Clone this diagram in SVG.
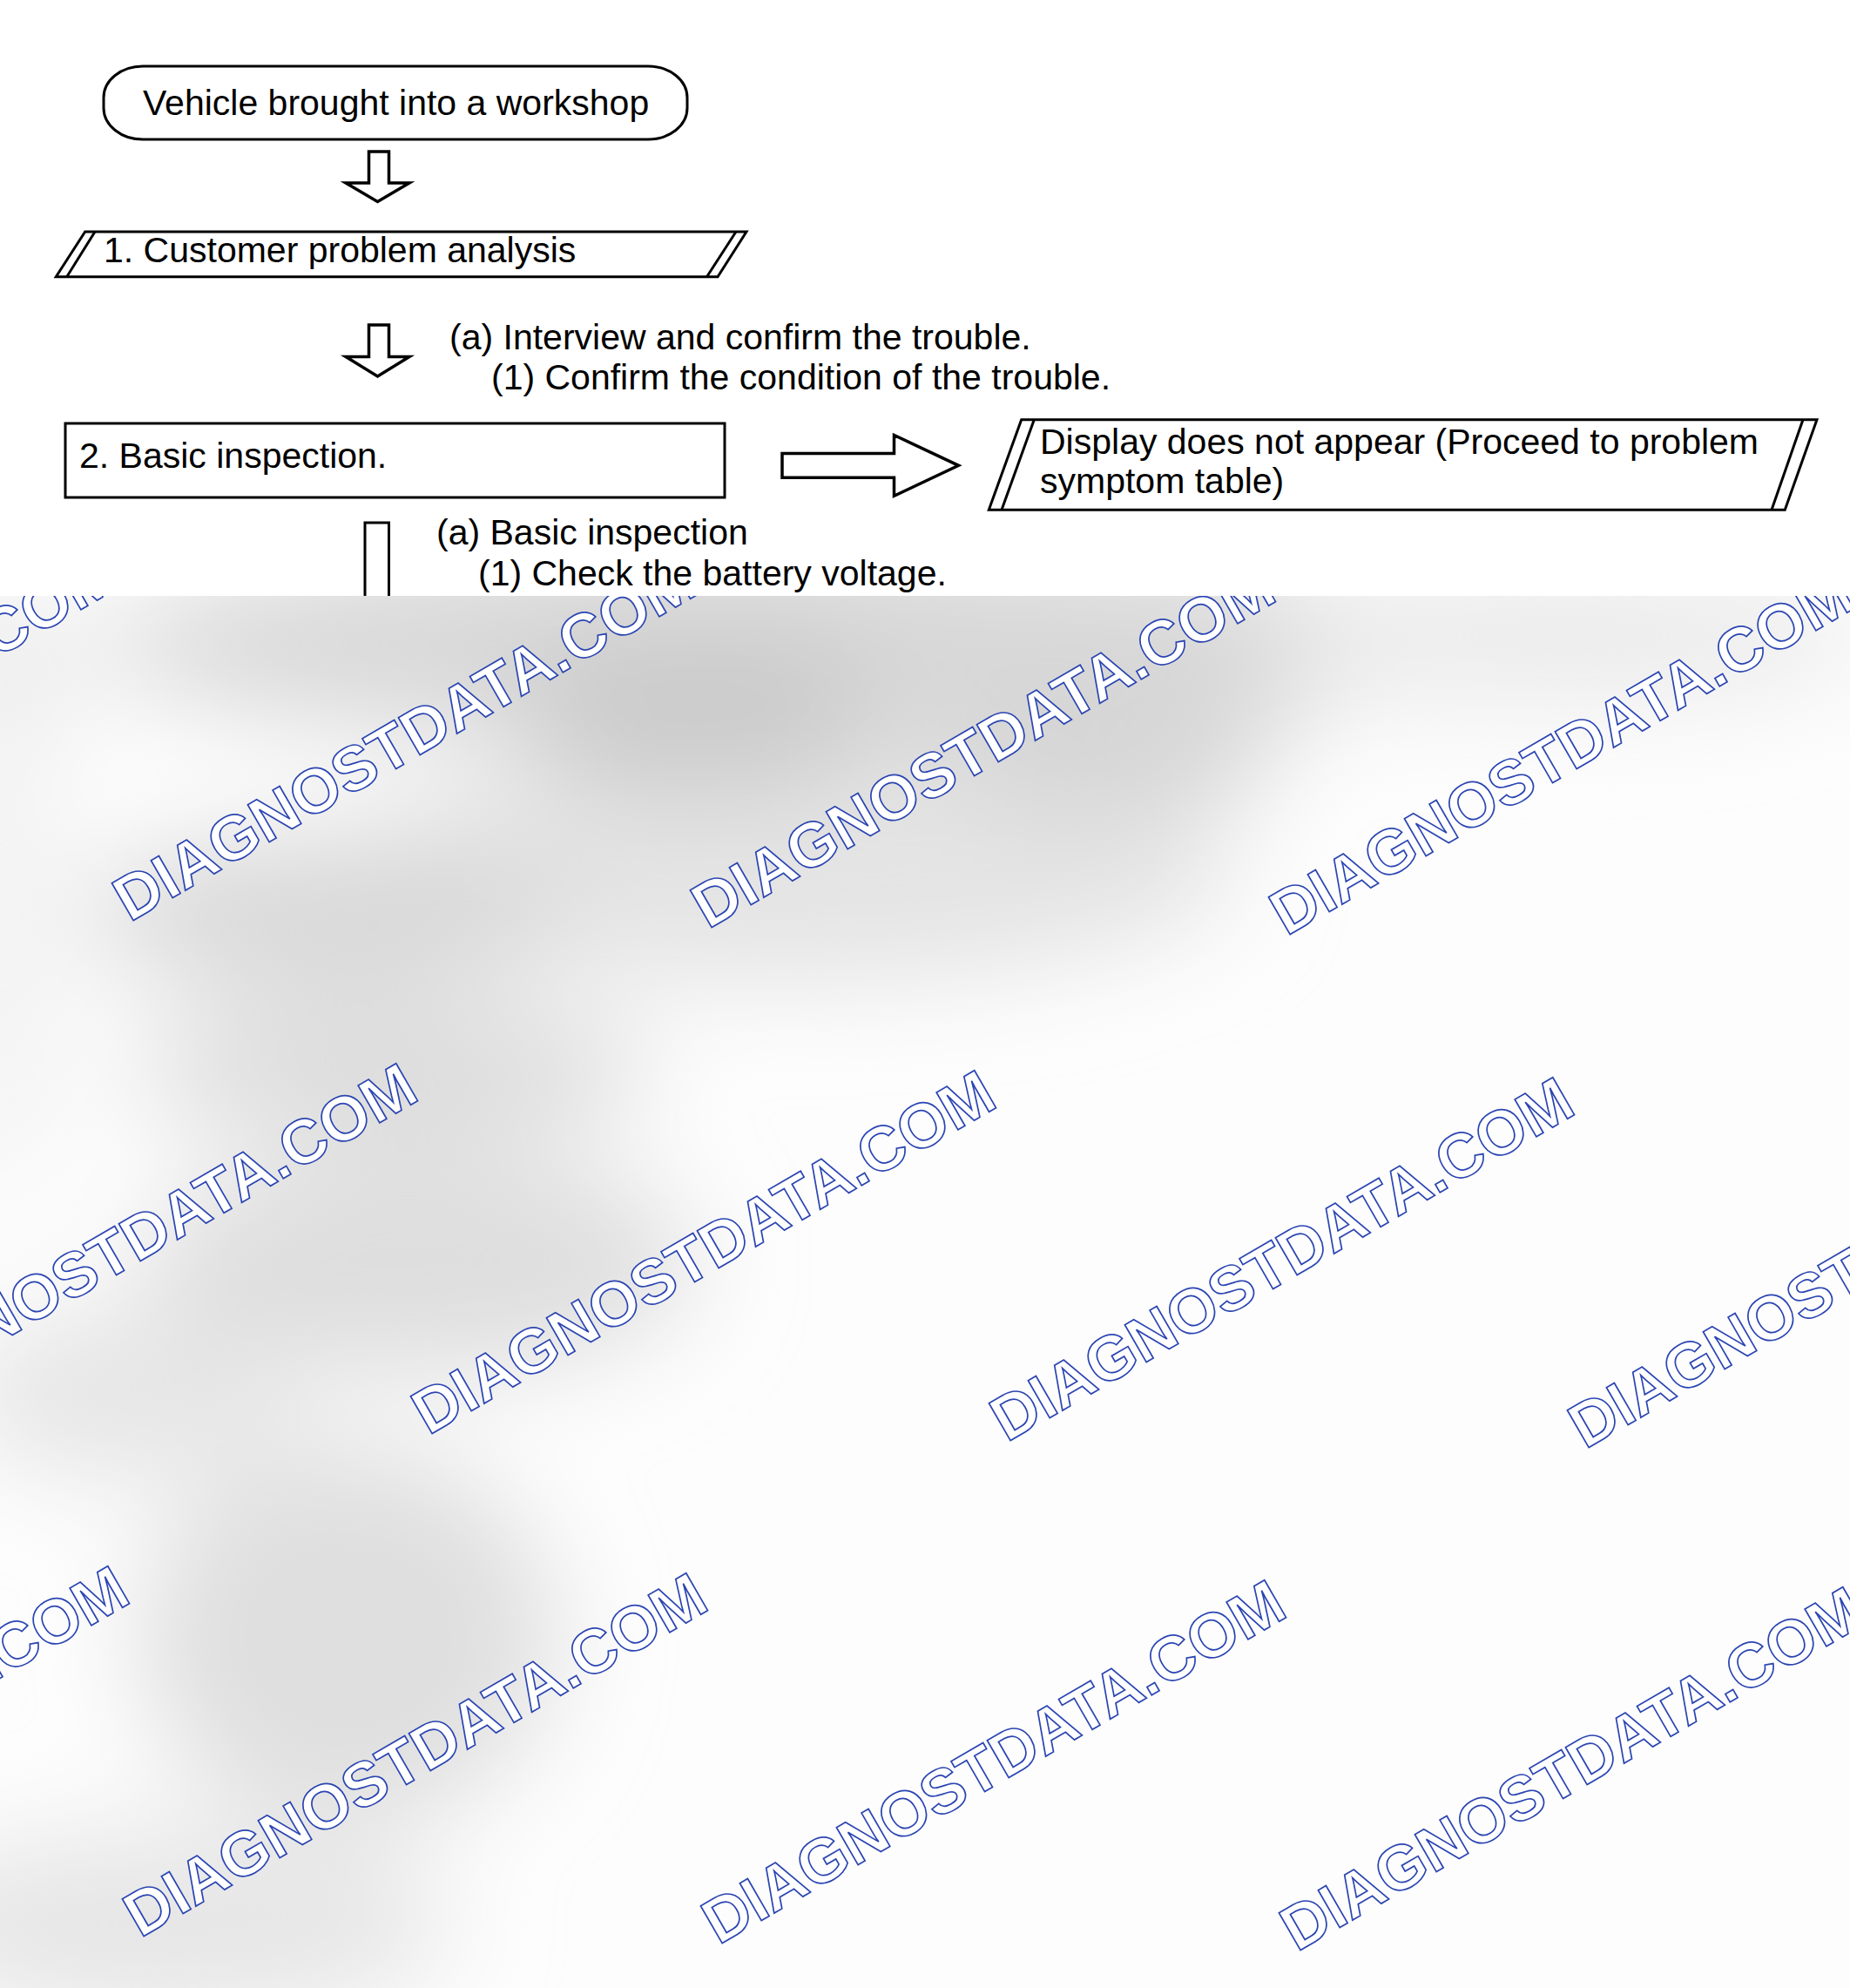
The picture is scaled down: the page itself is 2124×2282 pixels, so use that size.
<svg xmlns="http://www.w3.org/2000/svg" xmlns:xlink="http://www.w3.org/1999/xlink" width="2124" height="2282" viewBox="0 0 2124 2282">
  <style>
    .lbl { font-family: "Liberation Sans", Arial, sans-serif; font-size: 41px; fill: #000; }
    .shape { fill: #fff; stroke: #000; stroke-width: 3; stroke-linejoin: miter; }
    .ln { fill: none; stroke: #000; stroke-width: 3; }
    .arrow { fill: #fff; stroke: #000; stroke-width: 3.5; stroke-linejoin: miter; }
    .wm { font-family: "Liberation Sans", Arial, sans-serif; font-weight: bold; font-size: 72px; fill: #fff; stroke: #2b45b2; stroke-width: 1.7; }
  </style>
  <defs>
    <clipPath id="grayClip">
      <rect x="0" y="684" width="2124" height="1598"/>
    </clipPath>
    <filter id="soft" filterUnits="userSpaceOnUse" x="-300" y="400" width="2800" height="2200">
      <feGaussianBlur stdDeviation="60"/>
    </filter>
    <text id="wmText" class="wm">DIAGNOSTDATA.COM</text>
  </defs>

  <rect x="0" y="0" width="2124" height="2282" fill="#ffffff"/>

  <!-- gray blurred overlay with watermarks -->
  <g id="overlay" clip-path="url(#grayClip)">
    <rect x="0" y="684" width="2124" height="1598" fill="#fdfdfd"/>
    <g filter="url(#soft)">
      <ellipse cx="900" cy="740" rx="780" ry="120" fill="#d8d8d8"/>
      <ellipse cx="1800" cy="730" rx="350" ry="80" fill="#ebebeb"/>
      <ellipse cx="900" cy="1000" rx="520" ry="130" fill="#e4e4e4"/>
      <ellipse cx="800" cy="820" rx="220" ry="90" fill="#cacaca"/>
      <ellipse cx="1270" cy="870" rx="200" ry="60" fill="#d4d4d4"/>
      <ellipse cx="380" cy="1050" rx="280" ry="90" fill="#d8d8d8"/>
      <ellipse cx="450" cy="1230" rx="300" ry="80" fill="#dcdcdc"/>
      <ellipse cx="480" cy="1450" rx="320" ry="130" fill="#dedede"/>
      <ellipse cx="150" cy="1600" rx="200" ry="100" fill="#e6e6e6"/>
      <ellipse cx="400" cy="1880" rx="240" ry="220" fill="#dfdfdf"/>
      <ellipse cx="200" cy="2210" rx="320" ry="110" fill="#e6e6e6"/>
      <ellipse cx="0" cy="1050" rx="70" ry="330" fill="#f2f2f2"/>
      <ellipse cx="0" cy="760" rx="110" ry="90" fill="#eeeeee"/>
    </g>
    <g id="watermarks">
      <use xlink:href="#wmText" transform="translate(-515 1051) rotate(-30)"/>
      <use xlink:href="#wmText" transform="translate(149 1059) rotate(-30)"/>
      <use xlink:href="#wmText" transform="translate(813 1067) rotate(-30)"/>
      <use xlink:href="#wmText" transform="translate(1477 1075) rotate(-30)"/>
      <use xlink:href="#wmText" transform="translate(-172 1640) rotate(-30)"/>
      <use xlink:href="#wmText" transform="translate(492 1648) rotate(-30)"/>
      <use xlink:href="#wmText" transform="translate(1156 1656) rotate(-30)"/>
      <use xlink:href="#wmText" transform="translate(1820 1664) rotate(-30)"/>
      <use xlink:href="#wmText" transform="translate(-503 2217) rotate(-30)"/>
      <use xlink:href="#wmText" transform="translate(161 2225) rotate(-30)"/>
      <use xlink:href="#wmText" transform="translate(825 2233) rotate(-30)"/>
      <use xlink:href="#wmText" transform="translate(1489 2241) rotate(-30)"/>
    </g>
  </g>

  <!-- nodes -->
  <g id="node-start">
    <rect class="shape" x="119" y="76" width="670" height="84" rx="45" ry="36"/>
    <text class="lbl" x="164" y="132">Vehicle brought into a workshop</text>
  </g>

  <g id="node-customer-analysis">
    <polygon class="shape" points="97.7,266 857,266 824,317.7 64.3,317.7"/>
    <line class="ln" x1="109" y1="266" x2="76.7" y2="317.7"/>
    <line class="ln" x1="845" y1="266" x2="811.5" y2="317.7"/>
    <text class="lbl" x="119" y="301">1. Customer problem analysis</text>
  </g>

  <g id="note-interview">
    <text class="lbl" x="516" y="401">(a) Interview and confirm the trouble.</text>
    <text class="lbl" x="564" y="447">(1) Confirm the condition of the trouble.</text>
  </g>

  <g id="node-basic-inspection">
    <rect class="shape" x="75" y="486" width="757" height="85"/>
    <text class="lbl" x="91" y="537">2. Basic inspection.</text>
  </g>

  <g id="node-display">
    <polygon class="shape" points="1172.7,481.7 2086,481.7 2049.3,585.3 1135.3,585.3"/>
    <line class="ln" x1="1187.3" y1="481.7" x2="1150" y2="585.3"/>
    <line class="ln" x1="2070" y1="481.7" x2="2034" y2="585.3"/>
    <text class="lbl" x="1194" y="521">Display does not appear (Proceed to problem</text>
    <text class="lbl" x="1194" y="566">symptom table)</text>
  </g>

  <g id="note-basic">
    <text class="lbl" x="501" y="625">(a) Basic inspection</text>
    <text class="lbl" x="549" y="672">(1) Check the battery voltage.</text>
  </g>

  <!-- connectors -->
  <g id="connectors">
    <polygon class="arrow" points="423.5,174 446.5,174 446.5,210 470,210 433.5,231.5 397,210 423.5,210"/>
    <polygon class="arrow" points="423.5,373 446.5,373 446.5,409.5 470,409.5 433.5,432 397,409.5 423.5,409.5"/>
    <polygon class="arrow" points="898,520.5 1026.5,520.5 1026.5,499.5 1100.5,534.3 1026.5,569.3 1026.5,548.3 898,548.3"/>
    <path class="ln" d="M419,684 V600 H446.5 V684" stroke-width="3.5"/>
  </g>
</svg>
